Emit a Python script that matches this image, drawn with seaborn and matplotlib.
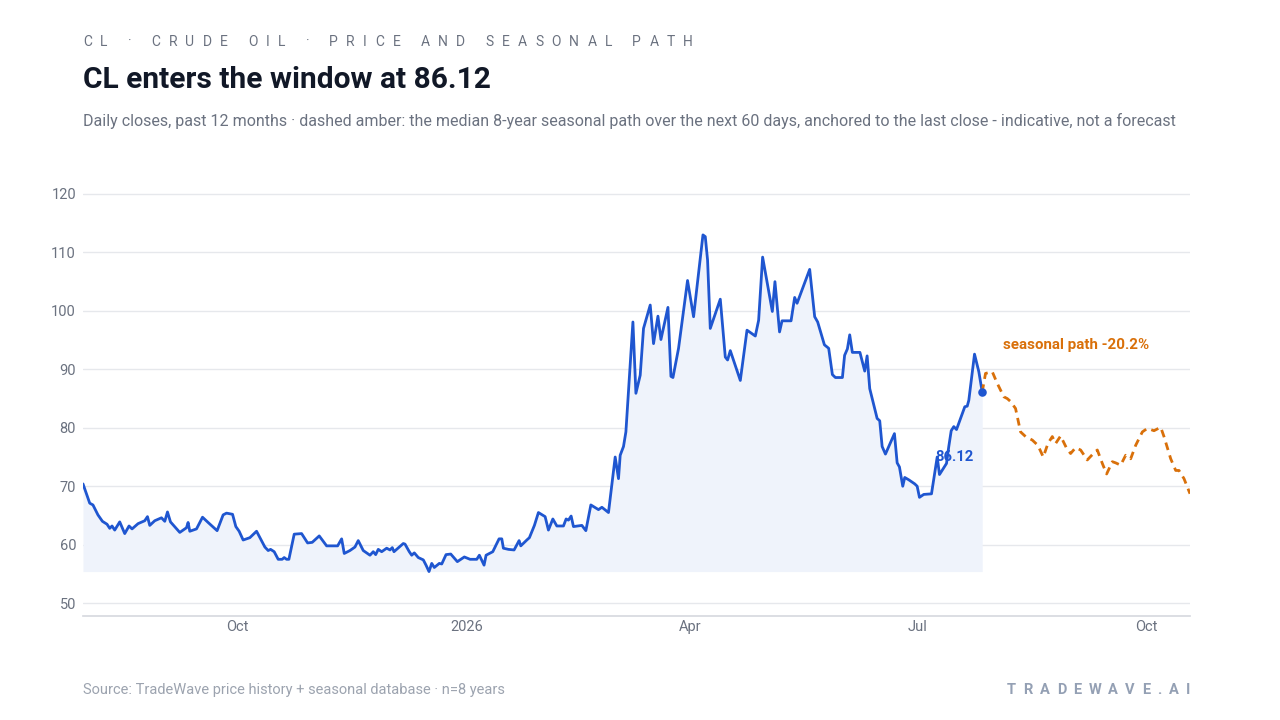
import numpy as np
import pandas as pd
import matplotlib
matplotlib.use("Agg")
import matplotlib.pyplot as plt
import matplotlib.dates as mdates
from matplotlib.ticker import FuncFormatter
import seaborn as sns

# ---------------- data ----------------
START_DATE = "2025-07-31"   # first daily close shown
# days since START_DATE for each vertex of the daily-close line
close_day = [0.0, 2.7, 4.0, 6.0, 7.8, 9.65, 10.73, 11.66, 12.74, 14.75, 16.76, 18.49, 19.7, 22.11,
             24.8, 25.89, 26.81, 28.82, 31.51, 32.84, 33.93, 35.13, 38.87, 41.56, 42.21, 42.89,
             45.58, 48.0, 50.25, 53.86, 56.28, 57.64, 60.06, 61.38, 62.71, 64.32, 67.01, 69.7,
             73.04, 74.37, 75.33, 76.78, 78.39, 79.99, 80.8, 81.76, 82.69, 84.82, 87.79, 90.2,
             92.05, 94.87, 97.84, 102.26, 103.87, 104.92, 107.21, 109.22, 110.54, 112.55, 115.25,
             116.57, 117.54, 118.58, 119.95, 121.96, 123.29, 124.21, 124.89, 128.63, 129.32,
             131.04, 132.01, 133.05, 134.66, 136.67, 137.76, 138.96, 140.05, 141.09, 143.1,
             144.07, 145.8, 147.69, 150.34, 153.15, 155.44, 158.14, 159.18, 161.07, 161.88,
             164.57, 167.1, 168.19, 168.83, 170.84, 173.13, 175.14, 175.82, 178.24, 179.28,
             181.29, 182.9, 185.59, 186.92, 188.69, 190.3, 192.95, 194.03, 194.96, 196.04,
             196.97, 200.35, 201.95, 203.96, 207.02, 208.39, 211.04, 213.73, 215.06, 215.74,
             217.07, 218.03, 220.85, 222.05, 223.78, 225.11, 227.8, 229.13, 230.9, 232.1,
             234.92, 236.12, 236.93, 239.18, 242.79, 245.21, 248.98, 249.91, 250.83, 251.92,
             255.94, 257.95, 258.87, 259.96, 263.98, 266.67, 270.01, 271.34, 272.94, 276.84,
             277.89, 279.74, 280.74, 284.36, 285.81, 286.77, 291.84, 293.85, 295.05, 297.75,
             299.47, 300.96, 302.17, 304.98, 305.87, 306.99, 307.92, 308.98, 312.02, 313.95,
             314.91, 315.96, 318.93, 319.97, 320.94, 322.27, 325.88, 326.97, 327.89, 329.22,
             330.02, 331.63, 334.04, 335.01, 335.93, 337.66, 340.76, 343.05, 343.97, 346.79,
             347.71, 348.68, 349.72, 350.81, 354.14, 355.11, 355.75, 358.04, 359.77, 361.13]
close_val = [70.4, 67.1, 66.8, 65.1, 64.0, 63.5, 62.8, 63.2, 62.5, 63.9, 61.9, 63.2, 62.7, 63.6,
             64.1, 64.8, 63.3, 64.1, 64.6, 64.0, 65.6, 63.9, 62.1, 62.9, 63.8, 62.3,
             62.7, 64.7, 63.8, 62.4, 65.1, 65.4, 65.2, 63.1, 62.3, 60.8, 61.2, 62.3,
             59.6, 59.0, 59.2, 58.8, 57.5, 57.5, 57.8, 57.5, 57.5, 61.8, 61.9, 60.3,
             60.4, 61.5, 59.8, 59.8, 61.0, 58.5, 59.0, 59.6, 60.7, 59.0, 58.2,
             58.8, 58.3, 59.2, 58.8, 59.4, 59.1, 59.5, 58.8, 60.2, 60.1,
             58.8, 58.2, 58.6, 57.8, 57.4, 56.5, 55.4, 56.8, 56.1, 56.8,
             56.7, 58.3, 58.4, 57.1, 57.9, 57.5, 57.5, 58.2, 56.5, 58.2,
             58.8, 61.0, 61.0, 59.4, 59.2, 59.1, 60.7, 59.8, 60.8, 61.2,
             63.3, 65.5, 64.8, 62.5, 64.4, 63.2, 63.2, 64.4, 64.2, 64.9,
             63.1, 63.3, 62.4, 66.8, 66.0, 66.4, 65.5, 75.0, 71.3, 75.3,
             76.8, 79.3, 98.1, 85.9, 89.0, 97.0, 101.0, 94.4, 99.1, 95.1,
             100.6, 88.8, 88.6, 93.6, 105.2, 99.0, 113.0, 112.7, 108.7, 97.0,
             102.0, 92.1, 91.6, 93.2, 88.1, 96.7, 95.7, 98.4, 109.2, 99.9,
             105.0, 96.4, 98.3, 98.3, 102.3, 101.3, 107.1, 99.0, 98.1, 94.2,
             93.6, 89.1, 88.6, 88.6, 92.4, 93.5, 95.9, 92.9, 92.9, 89.7,
             92.3, 86.7, 81.6, 81.2, 76.8, 75.5, 79.0, 74.0, 73.3, 70.0,
             71.5, 71.1, 70.4, 70.0, 68.1, 68.6, 68.7, 75.0, 72.0, 73.9,
             76.8, 79.5, 80.2, 79.7, 83.6, 83.7, 84.7, 92.6, 89.6, 86.12]

# median 8-year seasonal path after the last close (days since START_DATE)
seasonal_day = [362.46, 365.16, 367.17, 369.82, 371.19, 372.51, 374.52, 376.53, 378.54, 381.24,
                383.49, 385.66, 387.51, 389.28, 390.6, 392.61, 395.02, 396.63, 398.64, 400.65,
                403.34, 406.0, 407.36, 409.37, 411.1, 413.39, 414.72, 416.73, 418.74, 420.75,
                422.76, 425.45, 427.46, 430.12, 432.81, 434.13, 436.83, 438.84, 440.16, 442.17,
                444.58]
seasonal_val = [89.3, 89.6, 87.6, 85.3, 85.0, 84.5, 83.3, 79.3, 78.5, 77.9,
                77.0, 75.0, 77.3, 78.5, 77.3, 78.6, 76.5, 75.6, 76.6, 76.2,
                74.5, 75.7, 76.2, 73.9, 72.1, 74.2, 74.0, 73.6, 75.3, 74.7,
                77.0, 79.3, 79.9, 79.5, 80.1, 78.5, 74.7, 72.7, 72.7, 71.3,
                68.72]
seasonal_change_pct = -20.2
y_ticks = [50, 60, 70, 80, 90, 100, 110, 120]

# ---------------- text ----------------
OVERLINE = "CL · CRUDE OIL · PRICE AND SEASONAL PATH"
TITLE = "CL enters the window at 86.12"
SUBTITLE = ("Daily closes, past 12 months · dashed amber: the median 8-year seasonal path over the next "
            "60 days, anchored to the last close - indicative, not a forecast")
SOURCE = "Source: TradeWave price history + seasonal database · n=8 years"
BRAND = "TRADEWAVE.AI"

BLUE = "#1f56d0"
FILL = "#eff3fb"
AMBER = "#d9700a"
GRID = "#e6e8ec"
MUTED = "#6b7280"
LIGHT = "#9ca3af"
DARK = "#111827"

sns.set_theme(style="white")
plt.rcParams['font.family'] = ['Roboto', 'DejaVu Sans']

W, H = 1280, 720
fig = plt.figure(figsize=(W / 100, H / 100), dpi=100)
fig.patch.set_facecolor("white")

ax_left, ax_right, ax_bottom, ax_top = 83, 1190, 616, 182.3
ax = fig.add_axes([ax_left / W, 1 - ax_bottom / H, (ax_right - ax_left) / W, (ax_bottom - ax_top) / H])
ax.set_facecolor("white")

start = pd.Timestamp(START_DATE)
close_dates = start + pd.to_timedelta(close_day, unit="D")
seas_dates = start + pd.to_timedelta(seasonal_day, unit="D")

df_close = pd.DataFrame({"date": close_dates, "close": close_val})
df_seas = pd.DataFrame({"date": [close_dates[-1]] + list(seas_dates),
                        "value": [close_val[-1]] + seasonal_val})

ax.fill_between(df_close["date"], df_close["close"], min(close_val), color=FILL, lw=0, zorder=1)
sns.lineplot(data=df_close, x="date", y="close", ax=ax, color=BLUE, lw=2.0, errorbar=None,
             sort=False, zorder=3)
sns.lineplot(data=df_seas, x="date", y="value", ax=ax, color=AMBER, lw=2.0, errorbar=None,
             sort=False, zorder=3)
ax.lines[-1].set_dashes([2.8, 2.0])
ax.scatter([close_dates[-1]], [close_val[-1]], s=38, color=BLUE, zorder=5, linewidths=0)

ax.annotate(f"{close_val[-1]:.2f}", xy=(close_dates[-1], close_val[-1]), xytext=(-28, -65),
            textcoords="offset pixels", ha="center", va="center", color=BLUE,
            fontsize=10.7, fontweight="bold", zorder=6)
ax.annotate(f"seasonal path {seasonal_change_pct:.1f}%", xy=(close_dates[-1], close_val[-1]),
            xytext=(21, 47), textcoords="offset pixels", ha="left", va="center", color=AMBER,
            fontsize=10.9, fontweight="bold", zorder=6)

ax.set_xlim(close_dates[0], seas_dates[-1])
ax.set_ylim(47.8, 122)
ax.set_yticks(y_ticks)
ax.yaxis.grid(True, color=GRID, lw=1.0)
ax.xaxis.grid(False)
ax.set_axisbelow(True)
ax.xaxis.set_major_locator(mdates.MonthLocator(bymonth=[1, 4, 7, 10]))


def fmt_date(x, pos):
    d = mdates.num2date(x)
    return str(d.year) if d.month == 1 else d.strftime("%b")


ax.xaxis.set_major_formatter(FuncFormatter(fmt_date))
for s in ["top", "right", "left"]:
    ax.spines[s].set_visible(False)
ax.spines["bottom"].set_color("#d5d8de")
ax.spines["bottom"].set_linewidth(1.2)
ax.tick_params(axis="both", length=0, labelsize=10.5, colors=MUTED)
ax.tick_params(axis="y", pad=5)
ax.tick_params(axis="x", pad=3)
ax.set_xlabel("")
ax.set_ylabel("")

renderer = fig.canvas.get_renderer()


def spaced_text(s, x0, x1, y_px, **kw):
    widths = []
    for ch in s:
        if ch == " ":
            t1 = fig.text(0, 0, "a a", **kw)
            t2 = fig.text(0, 0, "aa", **kw)
            widths.append(t1.get_window_extent(renderer).width - t2.get_window_extent(renderer).width)
            t1.remove(); t2.remove()
        else:
            t = fig.text(0, 0, ch, **kw)
            widths.append(t.get_window_extent(renderer).width)
            t.remove()
    track = ((x1 - x0) - sum(widths)) / (len(s) - 1)
    x = x0
    for ch, w in zip(s, widths):
        if ch != " ":
            fig.text(x / W, 1 - y_px / H, ch, ha="left", va="center", **kw)
        x += w + track


spaced_text(OVERLINE, 83, 693, 41.5, fontsize=10, color=MUTED)
fig.text(83 / W, 1 - 80 / H, TITLE, ha="left", va="center", fontsize=21.5, fontweight="bold", color=DARK)
fig.text(83 / W, 1 - 121 / H, SUBTITLE, ha="left", va="center", fontsize=11.55, color=MUTED)
fig.text(83 / W, 1 - 690 / H, SOURCE, ha="left", va="center", fontsize=10.5, color=LIGHT)
spaced_text(BRAND, 1007, 1190, 690, fontsize=10.5, fontweight="bold", color="#94a0b4")

fig.savefig("out.png", dpi=100, facecolor="white")
